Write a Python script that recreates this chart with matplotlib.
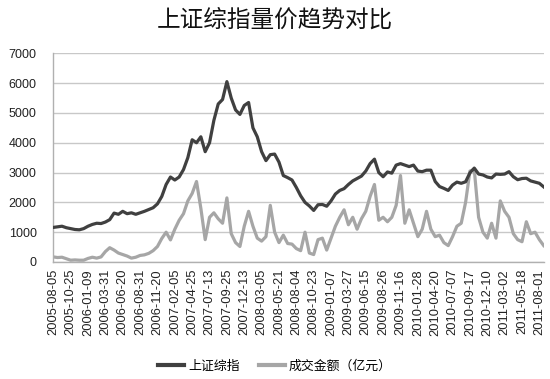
import matplotlib
matplotlib.use("Agg")
import matplotlib.pyplot as plt
import numpy as np

plt.rcParams['font.family'] = ['Noto Sans CJK SC', 'DejaVu Sans']

tick_dates = ["2005-08-05", "2005-10-25", "2006-01-09", "2006-03-31", "2006-06-20",
              "2006-08-31", "2006-11-20", "2007-02-05", "2007-04-25", "2007-07-13",
              "2007-09-25", "2007-12-13", "2008-03-05", "2008-05-21", "2008-08-04",
              "2008-10-23", "2009-01-07", "2009-03-27", "2009-06-15", "2009-08-26",
              "2009-11-16", "2010-01-28", "2010-04-20", "2010-07-07", "2010-09-17",
              "2010-12-10", "2011-03-02", "2011-05-18", "2011-08-01"]
points_per_label = 4

sh_index = [1160, 1180, 1200, 1150, 1120, 1090, 1080, 1120, 1200, 1260,
            1300, 1290, 1340, 1420, 1640, 1600, 1700, 1620, 1650, 1600,
            1650, 1700, 1760, 1820, 1950, 2200, 2600, 2850, 2750, 2850,
            3100, 3500, 4100, 4000, 4200, 3700, 4000, 4750, 5300, 5450,
            6050, 5500, 5100, 4950, 5250, 5350, 4500, 4200, 3700, 3400,
            3600, 3620, 3350, 2900, 2830, 2750, 2500, 2220, 2000, 1880,
            1730, 1920, 1930, 1870, 2050, 2280, 2400, 2460, 2600, 2720,
            2800, 2880, 3050, 3300, 3450, 3000, 2860, 3020, 2980, 3250,
            3300, 3250, 3200, 3250, 3050, 3030, 3080, 3080, 2700, 2530,
            2470, 2400, 2580, 2680, 2640, 2690, 2990, 3150, 2950, 2920,
            2850, 2820, 2950, 2940, 2950, 3030, 2860, 2760, 2800, 2810,
            2720, 2680, 2640, 2520]

turnover = [170, 150, 160, 110, 60, 70, 60, 60, 120, 160,
            130, 170, 350, 480, 400, 300, 250, 200, 130, 160,
            220, 240, 290, 380, 520, 790, 1000, 740, 1100, 1400,
            1620, 2050, 2300, 2700, 1800, 750, 1500, 1650, 1450, 1300,
            2150, 950, 650, 520, 1200, 1700, 1200, 800, 700, 850,
            1900, 1000, 650, 900, 620, 600, 450, 380, 1000, 300,
            250, 750, 800, 400, 800, 1200, 1500, 1750, 1250, 1500,
            1100, 1450, 1700, 2200, 2600, 1400, 1500, 1350, 1500, 1900,
            2900, 1300, 1750, 1300, 850, 1100, 1700, 1100, 850, 900,
            650, 550, 850, 1200, 1300, 2000, 3050, 3100, 1500, 1000,
            800, 1300, 800, 2050, 1700, 1500, 950, 750, 680, 1350,
            950, 1000, 750, 550]

yticks = [0, 1000, 2000, 3000, 4000, 5000, 6000, 7000]

fig = plt.figure(figsize=(5.5, 3.79), dpi=100)
ax = fig.add_axes([53.3/550, 1-262/379, (543.7-53.3)/550, (262-53.3)/379])

x = np.arange(len(sh_index))
ax.plot(x, sh_index, color='#404040', lw=2.3, solid_joinstyle='round', label='上证综指', zorder=3)
ax.plot(x, turnover, color='#a6a6a6', lw=2.3, solid_joinstyle='round', label='成交金额（亿元）', zorder=2)

ax.set_ylim(0, 7000)
ax.set_xlim(0, len(sh_index) - 1)
ax.set_yticks(yticks)
ax.set_yticklabels([str(v) for v in yticks], family='Liberation Sans', fontsize=9, color='#222222')
ax.set_xticks(np.arange(len(tick_dates)) * points_per_label)
ax.set_xticklabels(tick_dates, rotation=90, family='Liberation Sans', fontsize=9.3, color='#222222')
ax.tick_params(axis='both', length=0)
ax.tick_params(axis='y', pad=12)
ax.tick_params(axis='x', pad=5)
ax.grid(axis='y', color='#c8c8c8', lw=1)
ax.set_axisbelow(True)
for s in ['top', 'right']:
    ax.spines[s].set_visible(False)
for s in ['left', 'bottom']:
    ax.spines[s].set_color('#b0b0b0')
    ax.spines[s].set_linewidth(1)

fig.text(0.5, 1-20/379, '上证综指量价趋势对比', ha='center', va='center', fontsize=17, color='#111111')

leg = fig.legend(loc='center', bbox_to_anchor=(0.5, 1-366/379), ncol=2, frameon=False,
                 fontsize=9.3, handlelength=2.0, handletextpad=0.3, columnspacing=1.5)
for line in leg.get_lines():
    line.set_linewidth(3)

fig.savefig('out.png', dpi=100)
